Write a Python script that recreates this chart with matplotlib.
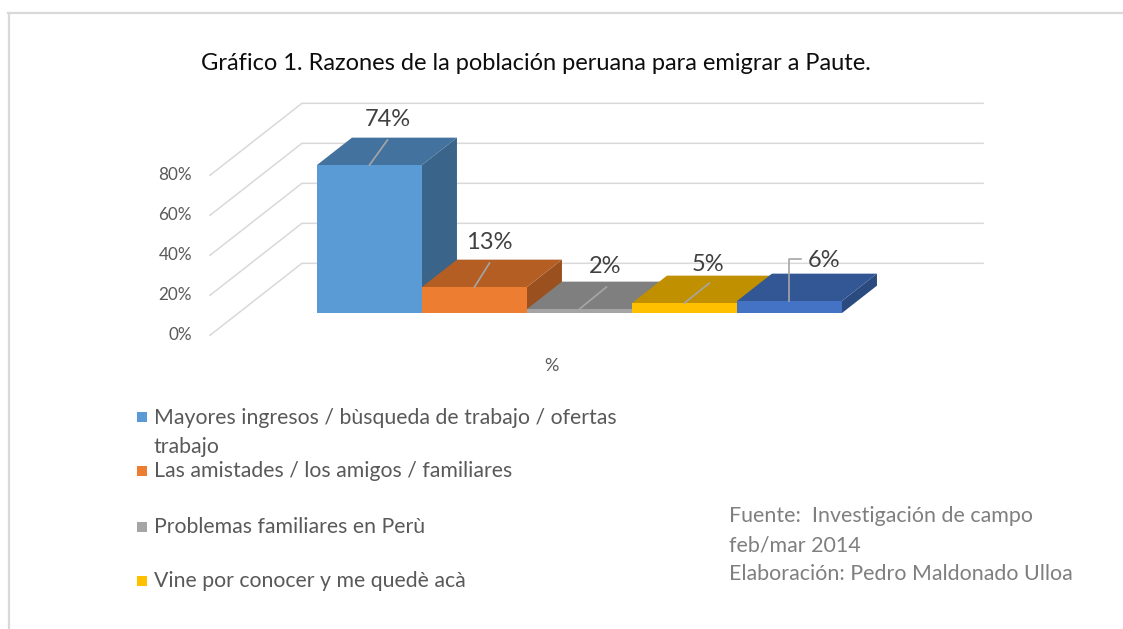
#Grafico 1 - Razones de la poblacion peruana para emigrar a Paute (barras 3D estilo Excel)
import numpy as np
import matplotlib.pyplot as plt
from matplotlib.patches import Polygon, Rectangle
from matplotlib.lines import Line2D

#Datos
categorias = ['Mayores ingresos / bùsqueda de trabajo / ofertas\ntrabajo',
              'Las amistades / los amigos / familiares',
              'Problemas familiares en Perù',
              'Vine por conocer y me quedè acà',
              'Otros']  #la quinta no se ve en la leyenda original
valores = [74, 13, 2, 5, 6]
etiquetas = ['74%', '13%', '2%', '5%', '6%']
ticks_y = [0, 20, 40, 60, 80]
ticks_txt = ['0%', '20%', '40%', '60%', '80%']

#Colores (frente, tapa, lado)
c_frente = ['#5B9BD5', '#ED7D31', '#A5A5A5', '#FFC000', '#4472C4']
c_tapa = ['#44729F', '#B45E24', '#7F7F7F', '#C09000', '#335795']
c_lado = ['#3A6489', '#9B511F', '#6B6B6B', '#A67C00', '#2B4A80']

W, H = 1123, 629
plt.rcParams['font.family'] = ['Lato', 'DejaVu Sans']

fig = plt.figure(figsize=(W/100, H/100), dpi=100)
ax = fig.add_axes([0, 0, 1, 1])
#1 unidad en x = ancho de barra, 1 unidad en y = 1%
ax.set_xlim(-369.5/105, (W-369.5)/105)
ax.set_ylim((313-H)/2, 313/2)
ax.axis('off')

def fig_xy(x, y):
    return x/W, 1 - y/H

#Profundidad (vector por unidad de profundidad)
DX, DY = 92/105, 36
d_frente, d_fondo, d_barra = -0.31, 0.69, 0.38
x_izq = -1.248
x_der = 5.843

#Pared izquierda y lineas de cuadricula
gris_grid = '#D9D9D9'
for v, t in zip(ticks_y, ticks_txt):
    x0, y0 = x_izq + DX*d_frente, v + DY*d_frente
    x1, y1 = x_izq + DX*d_fondo, v + DY*d_fondo
    ax.plot([x0, x1, x_der], [y0, y1, y1], color=gris_grid, lw=1.1, zorder=1)
    ax.text(x0 - 0.17, y0, t, ha='right', va='center', fontsize=12.3, color='#595959')

#Barras
bdx, bdy = DX*d_barra, DY*d_barra
for i, v in enumerate(valores):
    z = 2 + i
    lado = [(i+0.5, 0), (i+0.5, v), (i+0.5+bdx, v+bdy), (i+0.5+bdx, bdy)]
    tapa = [(i-0.5, v), (i+0.5, v), (i+0.5+bdx, v+bdy), (i-0.5+bdx, v+bdy)]
    ax.add_patch(Polygon(lado, closed=True, fc=c_lado[i], ec='none', zorder=z))
    ax.add_patch(Polygon(tapa, closed=True, fc=c_tapa[i], ec='none', zorder=z))
    ax.add_patch(Rectangle((i-0.5, 0), 1, v, fc=c_frente[i], ec='none', zorder=z))

#Etiquetas de datos con lineas guia
guias = [[(0, 0), (0.171, 12.5)],
         [(0, 0), (0.143, 12)],
         [(0, 0), (0.257, 11)],
         [(0, 0), (0.238, 10)],
         [(0, 0), (0, 21), (0.105, 21)]]
pos_etq = [(0.176, 22.5), (0.138, 22), (0.243, 21), (0.224, 19), (0.329, 20)]
for i, v in enumerate(valores):
    gx = [i + p[0] for p in guias[i]]
    gy = [v + p[1] for p in guias[i]]
    ax.plot(gx, gy, color='#A6A6A6', lw=1.2, zorder=20)
    ax.text(i + pos_etq[i][0], v + pos_etq[i][1], etiquetas[i], ha='center', va='center',
            fontsize=17, color='#404040', zorder=21)

#Titulo del eje
fig.text(*fig_xy(551, 366), '%', ha='center', va='center', fontsize=13, color='#595959')

#Titulo
fig.text(*fig_xy(536, 64), 'Gráfico 1. Razones de la población peruana para emigrar a Paute.',
         ha='center', va='center', fontsize=17, color='#0D0D0D')

#Leyenda (solo se ven 4 entradas en el original)
ley_y = [417, 471, 527, 581]
for j in range(4):
    x, y = fig_xy(137, ley_y[j] - 5)
    fig.patches.append(Rectangle((x, y - 10/H), 10/W, 10/H, transform=fig.transFigure,
                                 fc=c_frente[j], ec='none', figure=fig))
    ty = ley_y[j] + 15.5 if '\n' in categorias[j] else ley_y[j]
    fig.text(*fig_xy(154, ty), categorias[j], ha='left', va='center',
             fontsize=15.3, color='#595959', linespacing=1.6)

#Fuente
fig.text(*fig_xy(729, 545), 'Fuente:  Investigación de campo\nfeb/mar 2014\nElaboración: Pedro Maldonado Ulloa',
         ha='left', va='center', fontsize=15.4, color='#7F7F7F', linespacing=1.55)

#Marco
fig.add_artist(Line2D([8/W, 1], [1 - 13/H, 1 - 13/H], transform=fig.transFigure, color=gris_grid, lw=1.6))
fig.add_artist(Line2D([9/W, 9/W], [1 - 13/H, 0], transform=fig.transFigure, color=gris_grid, lw=1.6))

plt.savefig('out.png', dpi=100)
